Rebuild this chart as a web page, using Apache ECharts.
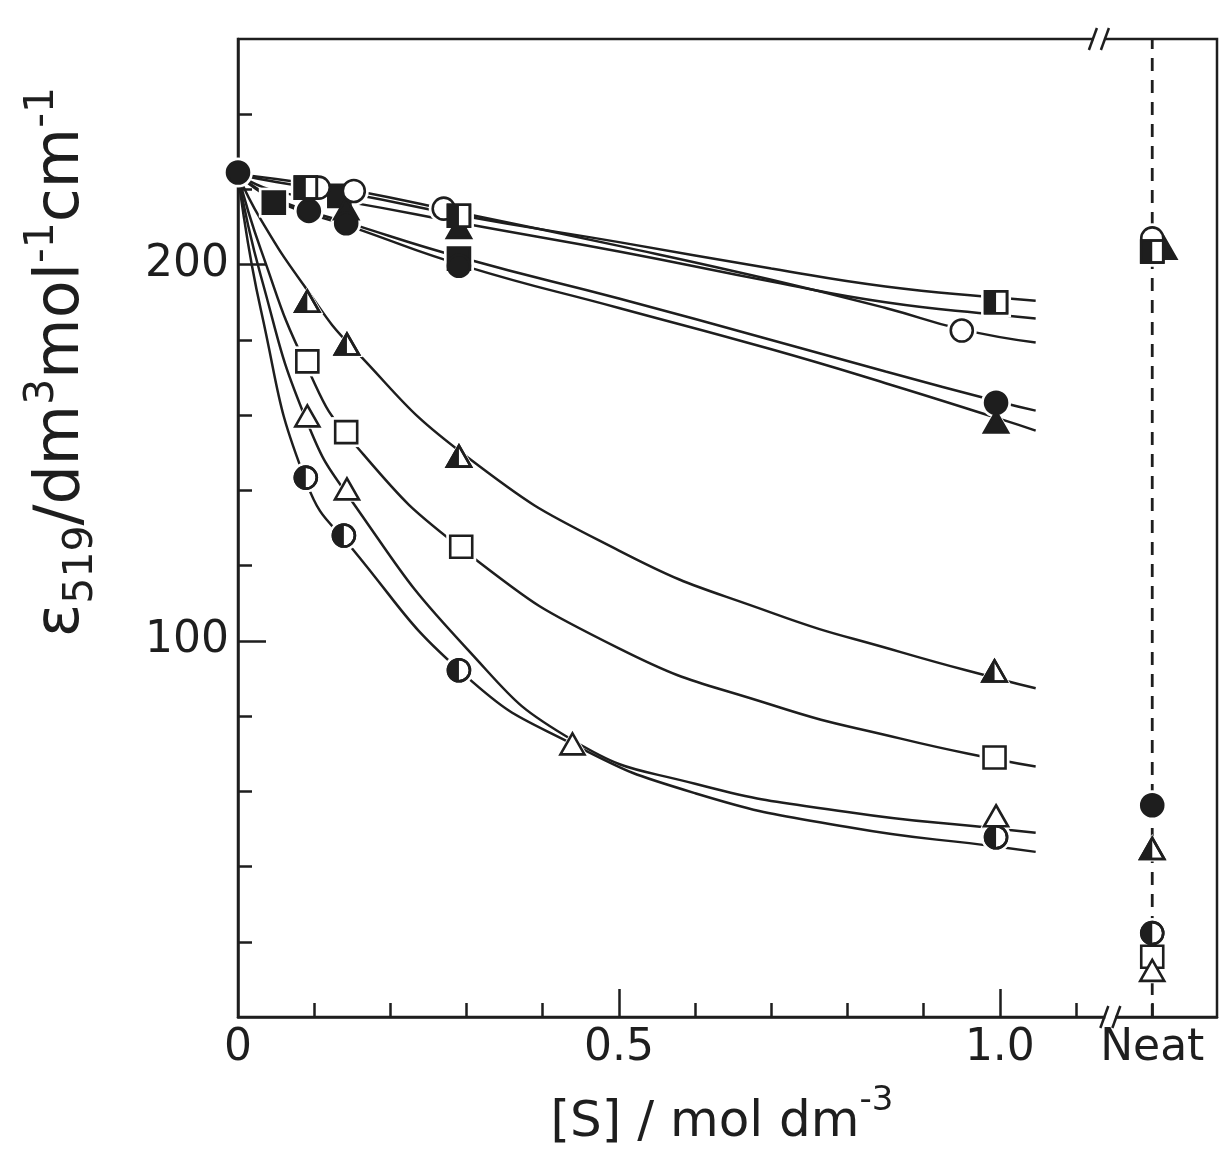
<!DOCTYPE html>
<html>
<head>
<meta charset="utf-8">
<script src="https://cdn.jsdelivr.net/npm/echarts@6/dist/echarts.min.js"></script>
<style>
  html, body { margin: 0; padding: 0; background: #ffffff; }
  #chart { width: 1225px; height: 1152px; }
</style>
</head>
<body>
<div id="chart"></div>
<script>
// ---- axis values ----
const NEAT_X = 1.2;               // x position used for the "Neat" column
const X_MAX = 1.285;
const Y_MAX = 260;
const xMinorTicks = [0.1, 0.2, 0.3, 0.4, 0.6, 0.7, 0.8, 0.9, 1.1, 1.2];
const xMajorTicks = [0.5, 1.0];
const xLabels = [0, 0.5, 1.0, NEAT_X];
const yMinorTicks = [20, 40, 60, 80, 120, 140, 160, 180, 220, 240];
const yMajorTicks = [100, 200];

// ---- measured points [S] (mol dm-3), epsilon ----
const filledCircle   = [[0, 224.5], [0.093, 214.3], [0.142, 211.0], [0.29, 199.7], [0.995, 163.3], [NEAT_X, 56.3]];
const filledSquare   = [[0.047, 216.5], [0.133, 218.3], [0.29, 201.6], [NEAT_X, 203.5]];
const filledTriangle = [[0.142, 214.5], [0.29, 209.5], [0.995, 157.8], [NEAT_X, 204.0]];
const openCircle     = [[0.106, 220.5], [0.152, 219.6], [0.27, 214.9], [0.95, 182.5], [NEAT_X, 207.0]];
const halfSquare     = [[0.089, 220.5], [0.29, 213.0], [0.995, 190.0], [NEAT_X, 203.5]];
const halfTriangle   = [[0.091, 189.9], [0.143, 178.5], [0.29, 148.7], [0.993, 91.6], [NEAT_X, 44.4]];
const openSquare     = [[0.091, 174.3], [0.142, 155.5], [0.293, 125.0], [0.993, 69.0], [NEAT_X, 16.0]];
const openTriangle   = [[0.091, 159.4], [0.143, 140.0], [0.439, 72.2], [0.995, 53.1], [NEAT_X, 12.0]];
const halfCircle     = [[0.089, 143.4], [0.139, 128.0], [0.29, 92.2], [0.995, 47.8], [NEAT_X, 22.3]];

// ---- fitted curves ----
const curveTop = [[0,224],[0.05,222],[0.15,218.8],[0.3,212.8],[0.5,206],[0.7,199],[0.85,194.2],[1.0,191.2],[1.047,190.4]];
const curveSecond = [[0,224],[0.05,219.5],[0.15,216.5],[0.3,210.8],[0.5,203.5],[0.7,195.5],[0.85,190],[1.0,186.6],[1.047,185.7]];
const curveOpenCircle = [[0,224],[0.05,222.8],[0.15,219.8],[0.3,213.5],[0.5,205],[0.7,196],[0.85,188.5],[0.95,182.8],[1.047,179.3]];
const curveFilledCircle = [[0,224],[0.05,217.5],[0.15,210.8],[0.3,201.5],[0.5,191],[0.7,180],[0.85,171.6],[1.0,163.5],[1.047,161.2]];
const curveFilledTriangle = [[0,224],[0.05,217],[0.15,210],[0.3,199.5],[0.5,188.5],[0.7,177.5],[0.85,168.5],[1.0,159],[1.047,155.9]];
const curveHalfTriangle = [[0,224],[0.03,212],[0.09,193.5],[0.15,178],[0.3,149],[0.5,124],[0.7,107.5],[0.87,97],[1.0,89.8],[1.047,87.4]];
const curveOpenSquare = [[0,224],[0.03,204],[0.09,173],[0.15,153],[0.3,123.5],[0.5,98],[0.7,83],[0.87,74],[1.0,68.3],[1.047,66.6]];
const curveOpenTriangle = [[0,224],[0.03,197],[0.09,158.5],[0.15,137],[0.3,98],[0.44,73.5],[0.6,62],[0.8,54.5],[1.0,50],[1.047,49]];
const curveHalfCircle = [[0,224],[0.03,188],[0.09,142],[0.15,124.5],[0.3,90.5],[0.44,72.5],[0.6,59.5],[0.8,50.5],[1.0,45.2],[1.047,43.9]];

const INK = '#1e1e1e';
const LW = 2.6;
const FONT = 'DejaVu Sans';

// draws one plot symbol (or its white halo) centred on cx, cy
function symbolShapes(kind, cx, cy, halo) {
  const pad = halo ? 4 : 0;
  const filled = kind.indexOf('filled') === 0;
  const half = kind.indexOf('half') === 0;
  const bodyStyle = halo ? { fill: '#ffffff' } : { fill: filled ? INK : '#ffffff', stroke: INK, lineWidth: LW };
  const out = [];
  if (/Circle$/.test(kind)) {
    const r = 11 + pad;
    out.push({ type: 'circle', shape: { cx, cy, r }, style: bodyStyle });
    if (half && !halo) {
      out.push({ type: 'sector', shape: { cx, cy, r0: 0, r: 11, startAngle: Math.PI / 2, endAngle: Math.PI * 1.5, clockwise: true }, style: { fill: INK } });
      out.push({ type: 'circle', shape: { cx, cy, r: 11 }, style: { fill: null, stroke: INK, lineWidth: LW } });
    }
  } else if (/Square$/.test(kind)) {
    const h = 11 + pad;
    out.push({ type: 'rect', shape: { x: cx - h, y: cy - h, width: 2 * h, height: 2 * h }, style: bodyStyle });
    if (half && !halo) {
      out.push({ type: 'rect', shape: { x: cx - 11, y: cy - 11, width: 11, height: 22 }, style: { fill: INK } });
      out.push({ type: 'rect', shape: { x: cx - 11, y: cy - 11, width: 22, height: 22 }, style: { fill: null, stroke: INK, lineWidth: LW } });
    }
  } else {
    const w = 12 + pad, top = 12 + pad, bot = 9 + pad * 0.6;
    out.push({ type: 'polygon', shape: { points: [[cx, cy - top], [cx + w, cy + bot], [cx - w, cy + bot]] }, style: Object.assign({ lineJoin: 'miter' }, bodyStyle) });
    if (half && !halo) {
      out.push({ type: 'polygon', shape: { points: [[cx, cy - 12], [cx, cy + 9], [cx - 12, cy + 9]] }, style: { fill: INK } });
      out.push({ type: 'polygon', shape: { points: [[cx, cy - 12], [cx + 12, cy + 9], [cx - 12, cy + 9]] }, style: { fill: null, stroke: INK, lineWidth: LW } });
    }
  }
  return out;
}

function symbolSeries(kind, data, halo) {
  return {
    type: 'custom',
    coordinateSystem: 'cartesian2d',
    xAxisIndex: 0, yAxisIndex: 0,
    data: data,
    z: halo ? 3 : 4,
    silent: true,
    clip: false,
    encode: { x: 0, y: 1 },
    renderItem: function (params, api) {
      const xv = api.value(0), yv = api.value(1);
      const p = api.coord([xv, yv]);
      // in the Neat column the filled triangle sits just right of the squares
      const dx = (kind === 'filledTriangle' && xv === NEAT_X) ? 12 : 0;
      return { type: 'group', children: symbolShapes(kind, p[0] + dx, p[1], halo) };
    }
  };
}

function curveSeries(data) {
  return {
    type: 'line', data: data, xAxisIndex: 0, yAxisIndex: 0,
    showSymbol: false, symbol: 'none', smooth: 0.5,
    lineStyle: { color: INK, width: 2.5 }, z: 2, silent: true
  };
}

const symbolSets = [
  ['filledSquare', filledSquare],
  ['filledTriangle', filledTriangle],
  ['filledCircle', filledCircle],
  ['openCircle', openCircle],
  ['halfSquare', halfSquare],
  ['halfTriangle', halfTriangle],
  ['openSquare', openSquare],
  ['openTriangle', openTriangle],
  ['halfCircle', halfCircle]
];

const curves = [curveTop, curveSecond, curveOpenCircle, curveFilledCircle, curveFilledTriangle,
  curveHalfTriangle, curveOpenSquare, curveOpenTriangle, curveHalfCircle];

const series = [];
curves.forEach(c => series.push(curveSeries(c)));
// dashed guide through the Neat column
series.push({
  type: 'line', data: [[NEAT_X, 0], [NEAT_X, Y_MAX]], xAxisIndex: 0, yAxisIndex: 0,
  showSymbol: false, symbol: 'none', silent: true, z: 2,
  lineStyle: { color: INK, width: 2.8, type: [13, 9] }
});
symbolSets.forEach(s => series.push(symbolSeries(s[0], s[1], true)));
symbolSets.forEach(s => series.push(symbolSeries(s[0], s[1], false)));

const labelStyle = { color: INK, fontFamily: FONT, fontSize: 44 };

const option = {
  backgroundColor: '#ffffff',
  animation: false,
  grid: { left: 238, right: 8, top: 39, bottom: 135, show: true, borderColor: INK, borderWidth: 2.5, backgroundColor: 'transparent' },
  xAxis: [
    {
      type: 'value', min: 0, max: X_MAX, interval: 0.1,
      axisLine: { show: true, lineStyle: { color: INK, width: 2.5 } },
      axisTick: { show: true, inside: true, length: 14, customValues: xMinorTicks, lineStyle: { color: INK, width: 2.5 } },
      axisLabel: Object.assign({
        show: true, margin: 10, customValues: xLabels,
        formatter: v => (Math.abs(v - NEAT_X) < 1e-9 ? 'Neat' : (v === 0 ? '0' : v.toFixed(1)))
      }, labelStyle),
      splitLine: { show: false }
    },
    {
      type: 'value', min: 0, max: X_MAX, interval: 0.1, position: 'bottom',
      axisLine: { show: false },
      axisTick: { show: true, inside: true, length: 28, customValues: xMajorTicks, lineStyle: { color: INK, width: 2.5 } },
      axisLabel: { show: false },
      splitLine: { show: false }
    }
  ],
  yAxis: [
    {
      type: 'value', min: 0, max: Y_MAX, interval: 20,
      axisLine: { show: true, lineStyle: { color: INK, width: 2.5 } },
      axisTick: { show: true, inside: true, length: 14, customValues: yMinorTicks, lineStyle: { color: INK, width: 2.5 } },
      axisLabel: Object.assign({ show: true, margin: 9, customValues: yMajorTicks }, labelStyle),
      splitLine: { show: false }
    },
    {
      type: 'value', min: 0, max: Y_MAX, interval: 20, position: 'left',
      axisLine: { show: false },
      axisTick: { show: true, inside: true, length: 28, customValues: yMajorTicks, lineStyle: { color: INK, width: 2.5 } },
      axisLabel: { show: false },
      splitLine: { show: false }
    }
  ],
  series: series
};

const chart = echarts.init(document.getElementById('chart'), null, { renderer: 'canvas' });
chart.setOption(option);

// axis-break marks on the frame and the axis titles
function breakMark(px, py) {
  return [
    { type: 'rect', shape: { x: px - 5, y: py - 3, width: 10, height: 6 }, style: { fill: '#ffffff' }, z: 20 },
    { type: 'line', shape: { x1: px - 10, y1: py + 11, x2: px - 2, y2: py - 11 }, style: { stroke: INK, lineWidth: 2.5 }, z: 21 },
    { type: 'line', shape: { x1: px + 2, y1: py + 11, x2: px + 10, y2: py - 11 }, style: { stroke: INK, lineWidth: 2.5 }, z: 21 }
  ];
}
const topBreak = chart.convertToPixel({ gridIndex: 0 }, [1.13, Y_MAX]);
const botBreak = chart.convertToPixel({ gridIndex: 0 }, [1.145, 0]);

chart.setOption({
  graphic: [].concat(breakMark(topBreak[0], topBreak[1]), breakMark(botBreak[0], botBreak[1]), [
    {
      type: 'text', x: 722, y: 1116, z: 10,
      style: {
        text: '{m|[S] / mol dm}{s|-3}',
        align: 'center', verticalAlign: 'middle', fill: INK,
        rich: {
          m: { fontFamily: FONT, fontSize: 50, lineHeight: 64, verticalAlign: 'bottom', fill: INK },
          s: { fontFamily: FONT, fontSize: 34, lineHeight: 34, verticalAlign: 'top', fill: INK }
        }
      }
    },
    {
      type: 'text', x: 62, y: 362, rotation: Math.PI / 2, z: 10,
      style: {
        text: '{m|ε}{b|519}{m|/dm}{s|3}{m|mol}{s|-1}{m|cm}{s|-1}',
        align: 'center', verticalAlign: 'middle', fill: INK,
        rich: {
          m: { fontFamily: FONT, fontSize: 62, lineHeight: 80, fill: INK },
          b: { fontFamily: FONT, fontSize: 41, lineHeight: 40, verticalAlign: 'bottom', fill: INK },
          s: { fontFamily: FONT, fontSize: 41, lineHeight: 40, verticalAlign: 'top', fill: INK }
        }
      }
    }
  ])
});
</script>
</body>
</html>
